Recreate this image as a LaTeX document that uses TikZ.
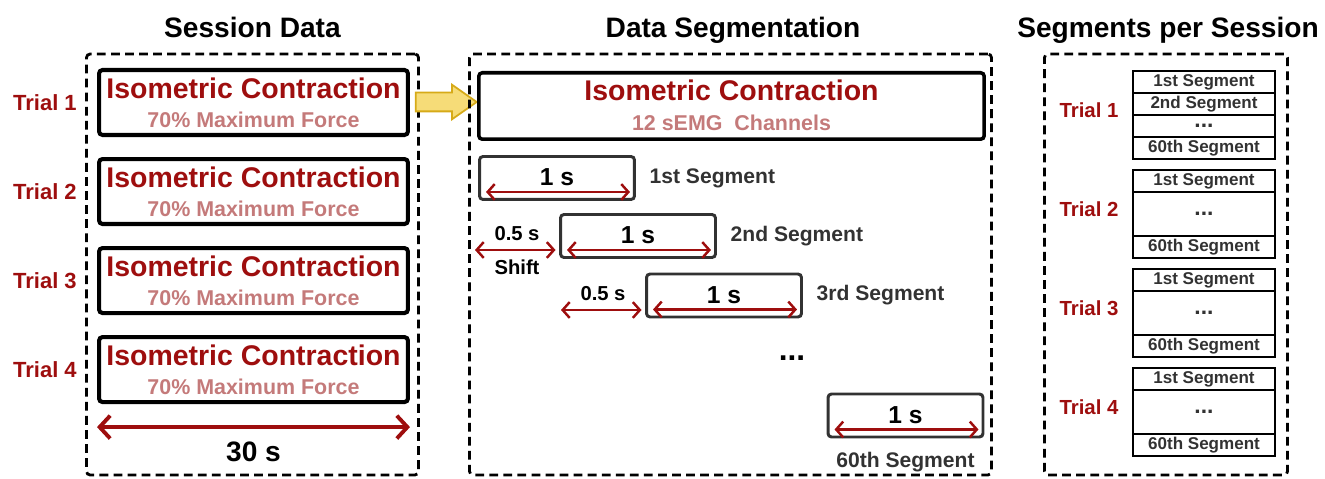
\documentclass[tikz,border=0pt]{standalone}
\usepackage{fontspec}
\setmainfont{Liberation Sans}
\usetikzlibrary{positioning,fit,shapes.arrows,arrows.meta}

\definecolor{trialred}{RGB}{158,14,14}
\definecolor{forcepink}{RGB}{196,122,122}
\definecolor{seggray}{RGB}{50,50,50}
\definecolor{arrowfill}{RGB}{246,220,120}
\definecolor{arrowedge}{RGB}{214,170,24}

\tikzset{panel/.style = {rectangle, draw=black, line width=1.6pt,
    dash pattern=on 5pt off 3pt, rounded corners=2pt},
  title/.style = {anchor=base, font=\fontsize{16}{18}\selectfont\bfseries},
  trialBox/.style = {rectangle, draw=black, line width=2.3pt, rounded corners=2pt,
    minimum width=6.18cm, minimum height=1.3cm},
  recBox/.style = {trialBox, line width=2pt, minimum width=10.11cm, minimum height=1.33cm},
  segBox/.style = {rectangle, draw=seggray, line width=1.7pt, rounded corners=2pt,
    minimum width=3.1cm, minimum height=0.86cm},
  mainLine/.style = {anchor=base, yshift=0.08cm, text=trialred,
    font=\fontsize{16.2}{18}\selectfont\bfseries},
  subLine/.style = {anchor=base, yshift=-0.5cm, text=forcepink,
    font=\fontsize{12.2}{14}\selectfont\bfseries},
  trialLabel/.style = {inner sep=0pt, text=trialred, font=\fontsize{12.5}{14}\selectfont\bfseries},
  sideLabel/.style = {trialLabel, font=\fontsize{11.6}{13}\selectfont\bfseries},
  durLabel/.style = {anchor=base, yshift=-0.16cm, font=\fontsize{14}{16}\selectfont\bfseries},
  segLabel/.style = {text=seggray, font=\fontsize{12}{14}\selectfont\bfseries},
  smallLabel/.style = {font=\fontsize{11.5}{13}\selectfont\bfseries},
  dotText/.style = {font=\fontsize{13}{14}\selectfont\bfseries},
  cell/.style = {rectangle, draw=black, line width=0.8pt, outer sep=0pt, inner sep=0pt,
    minimum width=2.84cm, minimum height=0.44cm, text=seggray,
    font=\fontsize{9.7}{11}\selectfont\bfseries},
  dotCell/.style = {cell, dotText, minimum height=0.88cm},
  stackFrame/.style = {draw=black, line width=1.4pt, inner sep=0pt},
  dim/.style = {draw=trialred, line width=1.4pt,
    {Straight Barb[length=4pt,width=9pt]}-{Straight Barb[length=4pt,width=9pt]}},
  bigDim/.style = {draw=trialred, line width=2.2pt,
    {Straight Barb[length=6pt,width=13pt]}-{Straight Barb[length=6pt,width=13pt]}},
  flowArrow/.style = {single arrow, draw=arrowedge, fill=arrowfill, line width=1pt,
    inner xsep=0pt, inner ysep=0.17cm, minimum height=1.22cm,
    single arrow head extend=0.16cm, single arrow tip angle=70}}

\begin{document}
\begin{tikzpicture}[x=0.02cm, y=-0.02cm]
  \useasboundingbox (0,0) rectangle (1325,479);

  % session data
  \node[panel, minimum width=6.64cm, minimum height=8.42cm] (session) at (252.5,264.5) {};
  \node[title] (sessionTitle) at (252.5,38) {Session Data};

  \node[trialBox] (trial1) at (253.5,102.5) {};
  \node[trialBox] (trial2) [below=0.4cm of trial1] {};
  \node[trialBox] (trial3) [below=0.4cm of trial2] {};
  \node[trialBox] (trial4) [below=0.4cm of trial3] {};

  \node (ic1) at (trial1) [mainLine] {Isometric Contraction};
  \node (mf1) at (trial1) [subLine] {70\% Maximum Force};
  \node (ic2) at (trial2) [mainLine] {Isometric Contraction};
  \node (mf2) at (trial2) [subLine] {70\% Maximum Force};
  \node (ic3) at (trial3) [mainLine] {Isometric Contraction};
  \node (mf3) at (trial3) [subLine] {70\% Maximum Force};
  \node (ic4) at (trial4) [mainLine] {Isometric Contraction};
  \node (mf4) at (trial4) [subLine] {70\% Maximum Force};

  \node (trialName1) [trialLabel, left=0.4cm of trial1] {Trial 1};
  \node (trialName2) [trialLabel, left=0.4cm of trial2] {Trial 2};
  \node (trialName3) [trialLabel, left=0.4cm of trial3] {Trial 3};
  \node (trialName4) [trialLabel, left=0.4cm of trial4] {Trial 4};

  \draw[bigDim] ([yshift=-0.46cm]trial4.south west) -- ([yshift=-0.46cm]trial4.south east)
    node[midway, below=0.15cm, font=\fontsize{16}{18}\selectfont\bfseries] (total) {30 s};

  \node[flowArrow] (flow) at (439.5,102) {};

  % data segmentation
  \node[panel, minimum width=10.44cm, minimum height=8.42cm] (segmentation) at (730.5,264.5) {};
  \node[title] (segTitle) at (733,38) {Data Segmentation};

  \node[recBox] (recording) at (731.5,106) {};
  \node (ic5) at (recording) [mainLine, yshift=0.02cm] {Isometric Contraction};
  \node (channels) at (recording) [subLine] {12 sEMG\ \ Channels};

  \node[segBox] (seg1) at (557,178) {};
  \node[segBox] (seg2) at (638,236) {};
  \node[segBox] (seg3) at (724,295.5) {};
  \node[segBox] (seg60) at (905.5,415.5) {};

  \node (len1) at (seg1) [durLabel] {1 s};
  \node (len2) at (seg2) [durLabel] {1 s};
  \node (len3) at (seg3) [durLabel] {1 s};
  \node (len60) at (seg60) [durLabel] {1 s};

  \draw[dim] ([shift={(8,-9)}]seg1.south west) -- ([shift={(-6,-9)}]seg1.south east);
  \draw[dim] ([shift={(8,-9)}]seg2.south west) -- ([shift={(-6,-9)}]seg2.south east);
  \draw[dim] ([shift={(8,-9)}]seg3.south west) -- ([shift={(-6,-9)}]seg3.south east);
  \draw[dim] ([shift={(8,-9)}]seg60.south west) -- ([shift={(-6,-9)}]seg60.south east);

  \node (segName1) [segLabel, right=0.15cm of seg1] {1st Segment};
  \node (segName2) [segLabel, right=0.15cm of seg2] {2nd Segment};
  \node (segName3) [segLabel, right=0.15cm of seg3] {3rd Segment};
  \node (segName60) [segLabel, below=0.15cm of seg60] {60th Segment};
  \node[dotText, font=\fontsize{18}{20}\selectfont\bfseries] (segDots) at (792,358) {...};

  \coordinate (shiftStart1) at (475,250);
  \coordinate (shiftStart2) at (561,310);
  \draw[dim, shorten >=2pt] (shiftStart1) -- (seg2.west |- shiftStart1)
    node[midway, above=0.05cm, smallLabel] (half1) {0.5 s}
    node[midway, below=0.05cm, smallLabel] (shiftName) {Shift};
  \draw[dim, shorten >=2pt] (shiftStart2) -- (seg3.west |- shiftStart2)
    node[midway, above=0.05cm, smallLabel] (half2) {0.5 s};

  % segments per session
  \node[panel, minimum width=4.86cm, minimum height=8.42cm] (perSession) at (1166,264.5) {};
  \node[title] (perTitle) at (1168,38) {Segments per Session};

  \node[cell] (t1a) at (1204,82) {1st Segment};
  \node[cell, below=0pt of t1a] (t1b) {2nd Segment};
  \node[cell, dotText, below=0pt of t1b] (t1c) {...};
  \node[cell, below=0pt of t1c] (t1d) {60th Segment};
  \node[stackFrame, fit=(t1a)(t1d)] (stack1) {};
  \node[sideLabel, left=0.26cm of stack1, yshift=0.1cm] (rowTrial1) {Trial 1};

  \node[cell, below=0.22cm of t1d] (t2a) {1st Segment};
  \node[dotCell, below=0pt of t2a] (t2b) {...};
  \node[cell, below=0pt of t2b] (t2c) {60th Segment};
  \node[stackFrame, fit=(t2a)(t2c)] (stack2) {};
  \node[sideLabel, left=0.26cm of stack2, yshift=0.1cm] (rowTrial2) {Trial 2};

  \node[cell, below=0.22cm of t2c] (t3a) {1st Segment};
  \node[dotCell, below=0pt of t3a] (t3b) {...};
  \node[cell, below=0pt of t3b] (t3c) {60th Segment};
  \node[stackFrame, fit=(t3a)(t3c)] (stack3) {};
  \node[sideLabel, left=0.26cm of stack3, yshift=0.1cm] (rowTrial3) {Trial 3};

  \node[cell, below=0.22cm of t3c] (t4a) {1st Segment};
  \node[dotCell, below=0pt of t4a] (t4b) {...};
  \node[cell, below=0pt of t4b] (t4c) {60th Segment};
  \node[stackFrame, fit=(t4a)(t4c)] (stack4) {};
  \node[sideLabel, left=0.26cm of stack4, yshift=0.1cm] (rowTrial4) {Trial 4};
\end{tikzpicture}
\end{document}
